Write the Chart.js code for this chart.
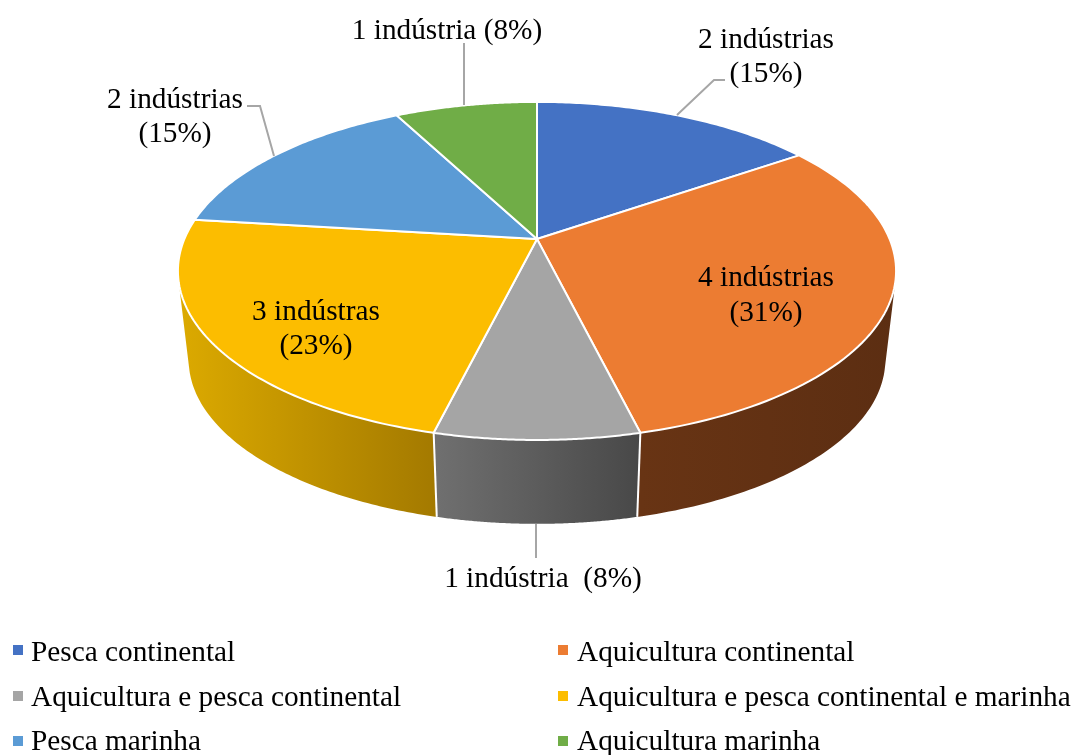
<!DOCTYPE html>
<html>
<head>
<meta charset="utf-8">
<title>Indústrias por setor</title>
<script src="https://cdn.jsdelivr.net/npm/chart.js@4/dist/chart.umd.min.js"></script>
<style>
body{margin:0;background:#fff;}
canvas{display:block;}
</style>
</head>
<body>
<canvas id="chart" width="1074" height="755"></canvas>
<script>
const categories = [
    "Pesca continental",
    "Aquicultura continental",
    "Aquicultura e pesca continental",
    "Aquicultura e pesca continental e marinha",
    "Pesca marinha",
    "Aquicultura marinha"
];
const industryCounts = [2, 4, 1, 3, 2, 1];
const sliceLabels = [
    ["2 indústrias", "(15%)"],
    ["4 indústrias", "(31%)"],
    ["1 indústria  (8%)"],
    ["3 indústras", "(23%)"],
    ["2 indústrias", "(15%)"],
    ["1 indústria (8%)"]
];
const sliceColors = ["#4472C4", "#EC7C32", "#A5A5A5", "#FCBD00", "#5B9BD5", "#70AD47"];

// side wall colours, left and right end of each gradient
const wallColors = [
    ["#2c4a80", "#2c4a80"],
    ["#683414", "#5c2e12"],
    ["#707070", "#484848"],
    ["#dcaa00", "#a47a00"],
    ["#3b6a96", "#3b6a96"],
    ["#4a7530", "#4a7530"]
];

// where each label goes on the page
const labelSpots = [
    {x: 766, y: [48, 82]},
    {x: 766, y: [286, 321]},
    {x: 543, y: [587]},
    {x: 316, y: [320, 354]},
    {x: 175, y: [108, 142]},
    {x: 447, y: [39]}
];
const leaderLines = [
    [[677, 115], [714, 80], [725, 80]],
    null,
    [[536, 524], [536, 558]],
    null,
    [[247, 106], [260, 106], [274, 156]],
    [[464, 43], [464, 105]]
];
// x, text baseline, top of the square
const legendSpots = [
    [13, 661, 645], [558, 661, 645],
    [13, 706, 691], [558, 706, 691],
    [13, 750, 736], [558, 750, 736]
];

// the top and bottom rims of the disc, seen in perspective
const topRim = {cx: 537, hub: 239, d: 352.6, a: 163};
const bottomRim = {cx: 537, hub: 329, d: 342, a: 158};
const tilt = -0.189;

function project(rim, angle){
    const u = Math.cos(angle);
    const v = Math.sin(angle);
    const w = 1 + tilt * v;
    return [rim.cx + rim.d * u / w, rim.hub + rim.a * v / w];
}

function rimPath(ctx, rim, from, to, first){
    const steps = 80;
    for(let i = 0; i <= steps; i++){
        const p = project(rim, from + (to - from) * i / steps);
        if(i === 0 && first) ctx.moveTo(p[0], p[1]);
        else ctx.lineTo(p[0], p[1]);
    }
}

// adds one wall as thin quads, all wound the same way so one fill leaves no seams
function wallPath(ctx, arc){
    const strips = 120;
    const span = arc.endAngle - arc.startAngle;
    for(let s = 0; s < strips; s++){
        const a0 = arc.startAngle + span * s / strips;
        const a1 = arc.startAngle + span * (s + 1) / strips;
        let quad = [project(topRim, a0), project(topRim, a1), project(bottomRim, a1), project(bottomRim, a0)];
        let area = 0;
        quad.forEach((p, k) => {
            const n = quad[(k + 1) % 4];
            area += p[0] * n[1] - n[0] * p[1];
        });
        if(area < 0) quad = quad.reverse();
        quad.forEach((p, k) => k ? ctx.lineTo(p[0], p[1]) : ctx.moveTo(p[0], p[1]));
        ctx.closePath();
    }
}

const pie3d = {
    id: "pie3d",
    beforeDatasetsDraw(chart){
        const ctx = chart.ctx;
        const arcs = chart.getDatasetMeta(0).data;
        ctx.save();
        ctx.lineJoin = "round";

        // side walls, the top surface hides the back ones
        arcs.forEach((arc, i) => {
            const start = project(topRim, arc.startAngle);
            const end = project(topRim, arc.endAngle);
            let x0 = Math.min(start[0], end[0]);
            let x1 = Math.max(start[0], end[0]);
            if(i === 3) x0 = topRim.cx - 359;
            if(i === 1) x1 = topRim.cx + 359;
            const grad = ctx.createLinearGradient(x0, 0, x1, 0);
            grad.addColorStop(0, wallColors[i][0]);
            grad.addColorStop(1, wallColors[i][1]);
            ctx.fillStyle = grad;
            ctx.beginPath();
            wallPath(ctx, arc);
            ctx.fill("nonzero");
        });

        // white edges between the front walls
        ctx.strokeStyle = "#fff";
        ctx.lineWidth = 2;
        [1, 2].forEach(i => {
            const a = arcs[i].endAngle;
            const p = project(topRim, a);
            const q = project(bottomRim, a);
            ctx.beginPath();
            ctx.moveTo(p[0], p[1]);
            ctx.lineTo(q[0], q[1]);
            ctx.stroke();
        });

        // top surface
        arcs.forEach((arc, i) => {
            ctx.beginPath();
            ctx.moveTo(topRim.cx, topRim.hub);
            rimPath(ctx, topRim, arc.startAngle, arc.endAngle, false);
            ctx.closePath();
            ctx.fillStyle = sliceColors[i];
            ctx.fill();
            ctx.stroke();
        });
        ctx.restore();
        return false;
    },
    afterDraw(chart){
        const ctx = chart.ctx;
        ctx.save();

        ctx.strokeStyle = "#a6a6a6";
        ctx.lineWidth = 2;
        leaderLines.forEach(line => {
            if(!line) return;
            ctx.beginPath();
            line.forEach((p, k) => k ? ctx.lineTo(p[0], p[1]) : ctx.moveTo(p[0], p[1]));
            ctx.stroke();
        });

        ctx.fillStyle = "#000";
        ctx.font = '29.3px "Liberation Serif"';
        ctx.textBaseline = "alphabetic";
        ctx.textAlign = "center";
        sliceLabels.forEach((lines, i) => {
            lines.forEach((text, k) => {
                ctx.fillText(text, labelSpots[i].x, labelSpots[i].y[k]);
            });
        });

        ctx.textAlign = "left";
        categories.forEach((name, i) => {
            const spot = legendSpots[i];
            ctx.fillStyle = sliceColors[i];
            ctx.fillRect(spot[0], spot[2], 10, 10);
            ctx.fillStyle = "#000";
            ctx.fillText(name, spot[0] + (i % 2 ? 19 : 18), spot[1]);
        });
        ctx.restore();
    }
};

new Chart(document.getElementById("chart").getContext("2d"), {
    type: "pie",
    data: {
        labels: categories,
        datasets: [{
            data: industryCounts,
            backgroundColor: sliceColors
        }]
    },
    options: {
        responsive: false,
        animation: false,
        plugins: {
            legend: {display: false},
            tooltip: {enabled: false}
        }
    },
    plugins: [pie3d]
});
</script>
</body>
</html>
